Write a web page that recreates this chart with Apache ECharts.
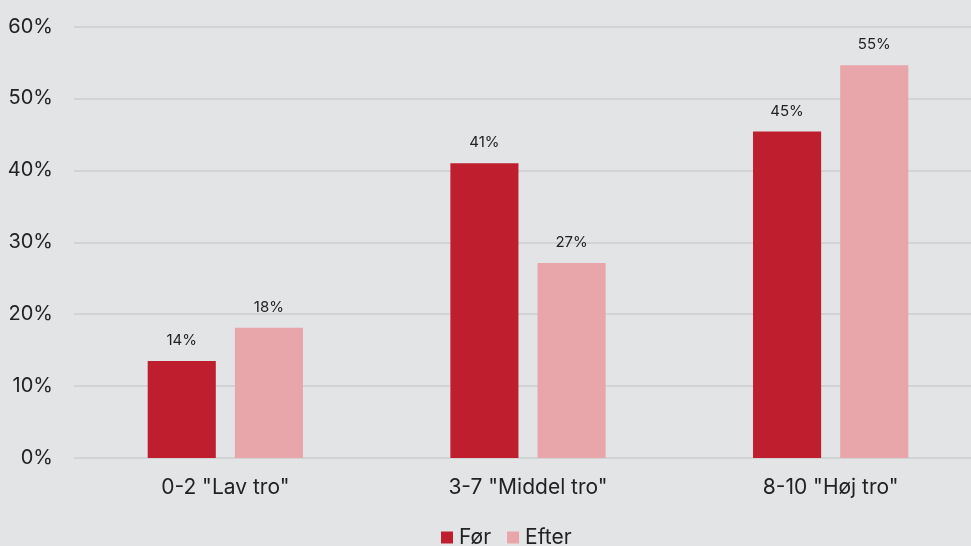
<!DOCTYPE html>
<html>
<head>
<meta charset="utf-8">
<script src="https://cdn.jsdelivr.net/npm/echarts@6/dist/echarts.min.js"></script>
<style>
  html, body { margin: 0; padding: 0; background: #e3e4e6; }
  #main { width: 971px; height: 546px; }
</style>
</head>
<body>
<div id="main"></div>
<script>
const categories = ['0-2 "Lav tro"', '3-7 "Middel tro"', '8-10 "Høj tro"']
const seriesNames = ['Før', 'Efter']
const forValues = [13.5, 41.0, 45.4]
const efterValues = [18.1, 27.1, 54.6]
const yTicks = [0, 10, 20, 30, 40, 50, 60]

const font = 'Inter'

let option = {
  backgroundColor: '#e3e4e6',
  animation: false,
  textStyle: { fontFamily: font },
  grid: {
    left: 74,
    width: 908,
    top: 26.5,
    bottom: 88,
    outerBoundsMode: 'none',
    containLabel: false
  },
  legend: {
    data: seriesNames,
    top: 522,
    left: 436,
    icon: 'rect',
    itemWidth: 12,
    itemHeight: 12,
    itemGap: 16,
    textStyle: { fontSize: 21, color: '#222', fontFamily: font, padding: [0, 0, 0, 1] }
  },
  xAxis: {
    type: 'category',
    data: categories,
    axisLine: { show: false },
    axisTick: { show: false },
    axisLabel: { fontSize: 21, color: '#222', margin: 19, fontFamily: font }
  },
  yAxis: {
    type: 'value',
    min: yTicks[0],
    max: yTicks[yTicks.length - 1],
    interval: 10,
    axisLine: { show: false },
    axisTick: { show: false },
    splitLine: { lineStyle: { color: '#d2d3d5', width: 2 } },
    axisLabel: {
      fontSize: 20,
      color: '#222',
      margin: 21,
      fontFamily: font,
      formatter: v => v + '%'
    }
  },
  series: [
    {
      name: seriesNames[0],
      type: 'bar',
      data: forValues,
      barWidth: '22.5%',
      barGap: '28%',
      itemStyle: { color: '#be1e2d' },
      label: {
        show: true,
        position: 'top',
        distance: 13,
        fontSize: 15,
        color: '#222',
        fontFamily: font,
        formatter: p => Math.round(p.value) + '%'
      }
    },
    {
      name: seriesNames[1],
      type: 'bar',
      data: efterValues,
      barWidth: '22.5%',
      barGap: '28%',
      itemStyle: { color: '#e8a5aa' },
      label: {
        show: true,
        position: 'top',
        distance: 13,
        fontSize: 15,
        color: '#222',
        fontFamily: font,
        formatter: p => Math.round(p.value) + '%'
      }
    }
  ]
}

let myChart = echarts.init(document.getElementById('main'))
myChart.setOption(option)
</script>
</body>
</html>
